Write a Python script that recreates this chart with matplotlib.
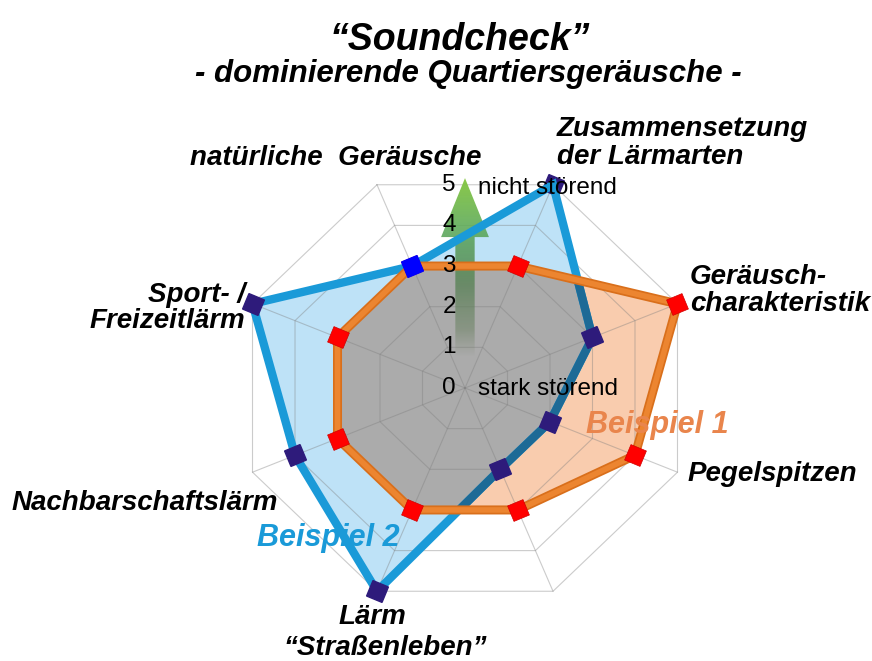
import numpy as np
import matplotlib.pyplot as plt
from matplotlib.patches import Polygon

# Soundcheck - Radar mit zwei Beispielen
kategorien = ['natürliche  Geräusche', 'Zusammensetzung\nder Lärmarten',
              'Geräusch-\ncharakteristik', 'Pegelspitzen', '',
              'Lärm\n“Straßenleben”', 'Nachbarschaftslärm', 'Sport- /\nFreizeitlärm']
beispiel_1 = [3, 3, 5, 4, 3, 3, 3, 3]
beispiel_2 = [3, 5, 3, 2, 2, 5, 4, 5]
skala = [0, 1, 2, 3, 4, 5]

W, H = 872, 661
cx, cy = 465, 388          # Mittelpunkt in Pixel
ux, uy = 46.0, 44.0        # Pixel pro Einheit

fig = plt.figure(figsize=(W / 100, H / 100), dpi=100)
ax = fig.add_axes([0, 0, 1, 1])
ax.axis('off')

def px(x, y):
    return x / W, 1 - y / H

n = len(kategorien)
theta = np.deg2rad(-22.5 + 45 * np.arange(n))
sx, sy = np.sin(theta), np.cos(theta)

def xy(werte):
    w = np.array(werte, dtype=float)
    return np.column_stack([w * sx, w * sy])

p1 = xy(beispiel_1)
p2 = xy(beispiel_2)

# Flächen
blau_flaeche = Polygon(p2, closed=True, fc='#BEE2F7', ec='none', zorder=1)
ax.add_patch(blau_flaeche)
rot_flaeche = Polygon(p1, closed=True, fc='#F9CCAE', ec='none', zorder=1.1)
ax.add_patch(rot_flaeche)
grau = Polygon(p1, closed=True, fc='#ABABAB', ec='none', zorder=1.2)
ax.add_patch(grau)
grau.set_clip_path(blau_flaeche)

# Netz
for r in skala[1:]:
    ring = np.vstack([xy([r] * n), xy([r] * n)[:1]])
    ax.plot(ring[:, 0], ring[:, 1], color='#7f7f7f', lw=0.8, alpha=0.4, zorder=2)
for i in range(n):
    ax.plot([0, skala[-1] * sx[i]], [0, skala[-1] * sy[i]], color='#7f7f7f',
            lw=0.8, alpha=0.4, zorder=2)

# gruener Pfeil mit Verlauf
kopf_oben, kopf_unten, schaft_unten = 4.77, 3.43, 0.7
pfeil = Polygon([(-0.21, schaft_unten), (-0.21, kopf_unten), (-0.52, kopf_unten),
                 (0, kopf_oben), (0.52, kopf_unten), (0.21, kopf_unten),
                 (0.21, schaft_unten)], closed=True, fc='none', ec='none')
ax.add_patch(pfeil)
t = np.linspace(0, 1, 200)
farben = np.zeros((200, 1, 4))
farben[:, 0, 0] = np.interp(t, [0, 0.4, 0.7, 1], [0.45, 0.33, 0.36, 0.52])
farben[:, 0, 1] = np.interp(t, [0, 0.4, 0.7, 1], [0.50, 0.50, 0.66, 0.78])
farben[:, 0, 2] = np.interp(t, [0, 0.4, 0.7, 1], [0.40, 0.32, 0.36, 0.24])
farben[:, 0, 3] = np.interp(t, [0, 0.15, 0.5, 1], [0.0, 0.5, 0.85, 0.95])
bild = ax.imshow(farben, extent=[-0.55, 0.55, schaft_unten, kopf_oben],
                 origin='lower', aspect='auto', zorder=2.5)
bild.set_clip_path(pfeil)

# Linien
ring1 = np.vstack([p1, p1[:1]])
ring2 = np.vstack([p2, p2[:1]])
ax.plot(ring2[:, 0], ring2[:, 1], color='#1A9AD8', lw=6, zorder=3,
        solid_joinstyle='miter')
dunkel, = ax.plot(ring2[:, 0], ring2[:, 1], color='#1D6A96', lw=6, zorder=3.05,
                  solid_joinstyle='miter')
dunkel.set_clip_path(rot_flaeche)
ax.plot(ring1[:, 0], ring1[:, 1], color='#D96F1B', lw=6.5, zorder=3.1,
        solid_joinstyle='miter')
ax.plot(ring1[:, 0], ring1[:, 1], color='#EC8530', lw=4, zorder=3.15,
        solid_joinstyle='miter')

# Marker
for i in range(n):
    ax.plot(p1[i, 0], p1[i, 1], marker=(4, 0, 45 - np.rad2deg(theta[i])),
            ms=17, color='#FF0000', mec='#D00000', mew=0.5, zorder=4)
for i in range(n):
    farbe = '#0000FF' if i == 0 else '#2E1B7B'
    z = 2.9 if i == 1 else 4.1
    ax.plot(p2[i, 0], p2[i, 1], marker=(4, 0, 45 - np.rad2deg(theta[i])),
            ms=17, color=farbe, mec=farbe, zorder=z)

ax.set_xlim(-cx / ux, (W - cx) / ux)
ax.set_ylim(-(H - cy) / uy, cy / uy)

# Skala
for s in skala:
    ax.text(-0.2, s * np.cos(np.deg2rad(22.5)), str(s), ha='right', va='center',
            fontsize=17.5, family='Liberation Sans', color='black', zorder=5)
fig.text(*px(478, 188), 'nicht störend', ha='left', va='center', fontsize=17.5,
         family='Liberation Sans', zorder=5)
fig.text(*px(478, 389), 'stark störend', ha='left', va='center', fontsize=17.5,
         family='Liberation Sans', zorder=5)

# Achsenbeschriftungen
stil = dict(fontsize=20, fontweight='bold', fontstyle='italic',
            family='Liberation Sans', linespacing=1.05)
fig.text(*px(336, 158), kategorien[0], ha='center', va='center', **stil)
fig.text(*px(557, 143), kategorien[1], ha='left', va='center', **stil)
fig.text(*px(690, 290), kategorien[2], ha='left', va='center', **stil)
fig.text(*px(688, 474), kategorien[3], ha='left', va='center', **stil)
lärm, strasse = kategorien[5].split('\n')
fig.text(*px(372, 617), lärm, ha='center', va='center', **stil)
fig.text(*px(385, 648), strasse, ha='center', va='center', **stil)
fig.text(*px(145, 503), kategorien[6], ha='center', va='center', **stil)
fig.text(*px(245, 308), kategorien[7], ha='right', va='center', ma='right', **stil)

# Serienbeschriftung
fig.text(*px(657, 425), 'Beispiel 1', ha='center', va='center', fontsize=22,
         fontweight='bold', fontstyle='italic', family='Liberation Sans',
         color='#E9854C')
fig.text(*px(328, 538), 'Beispiel 2', ha='center', va='center', fontsize=22,
         fontweight='bold', fontstyle='italic', family='Liberation Sans',
         color='#1A9AD8')

# Titel
fig.text(*px(460, 40), '“Soundcheck”', ha='center', va='center', fontsize=27,
         fontweight='bold', fontstyle='italic', family='Liberation Sans')
fig.text(*px(468, 74), '- dominierende Quartiersgeräusche -', ha='center',
         va='center', fontsize=22.5, fontweight='bold', fontstyle='italic',
         family='Liberation Sans')

fig.savefig('out.png', dpi=100)
